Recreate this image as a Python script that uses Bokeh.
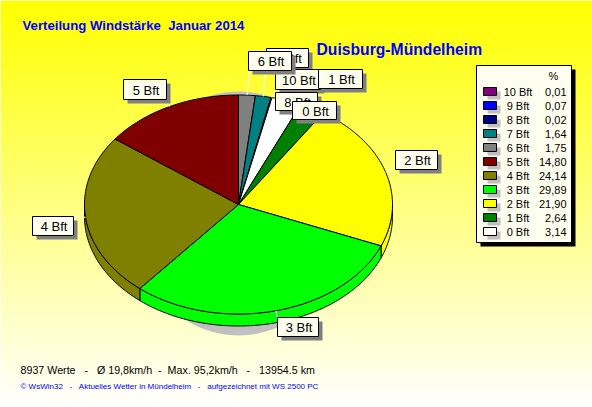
import math
from bokeh.plotting import figure
from bokeh.models import Range1d
from bokeh.core.properties import value
from bokeh.embed import file_html
from bokeh.resources import INLINE

# ---- data -------------------------------------------------------------
categories = ["10 Bft", "9 Bft", "8 Bft", "7 Bft", "6 Bft", "5 Bft", "4 Bft", "3 Bft", "2 Bft", "1 Bft", "0 Bft"]
percent = [0.01, 0.07, 0.02, 1.64, 1.75, 14.80, 24.14, 29.89, 21.90, 2.64, 3.14]
percent_labels = ["0,01", "0,07", "0,02", "1,64", "1,75", "14,80", "24,14", "29,89", "21,90", "2,64", "3,14"]
colors = ["#800080", "#0000ff", "#000080", "#008080", "#808080", "#800000", "#808000", "#00ff00", "#ffff00", "#008000", "#ffffff"]
slice_order = ["6 Bft", "7 Bft", "8 Bft", "9 Bft", "10 Bft", "0 Bft", "1 Bft", "2 Bft", "3 Bft", "4 Bft", "5 Bft"]

NB = "\u00a0"
title = f"Verteilung Windstärke {NB}Januar 2014"
subtitle = "Duisburg-Mündelheim"
stats = f"8937 Werte {NB}{NB}- {NB}{NB}Ø 19,8km/h {NB}- {NB}Max. 95,2km/h {NB}{NB}- {NB}{NB}13954.5 km"
credit = f"© WsWin32 {NB}{NB}- {NB}{NB}Aktuelles Wetter in Mündelheim {NB}{NB}- {NB}{NB}aufgezeichnet mit WS 2500 PC"

# label boxes, in paint order: name, left, top, right, bottom
label_boxes = [
    ("7 Bft", 266, 48, 308, 67),
    ("10 Bft", 275, 69, 320, 89),
    ("1 Bft", 318, 69, 362, 88),
    ("8 Bft", 275, 92, 317, 110),
    ("0 Bft", 292, 101, 336, 119),
    ("6 Bft", 248, 51, 291, 70),
    ("5 Bft", 123, 79, 166, 99),
    ("4 Bft", 32, 216, 73, 235),
    ("2 Bft", 395, 150, 437, 169),
    ("3 Bft", 277, 317, 318, 336),
]
# where each leader meets its box
leader_ends = {
    "6 Bft": (249, 70), "7 Bft": (265, 70), "5 Bft": (166, 99), "4 Bft": (73, 216),
    "2 Bft": (395, 169), "3 Bft": (277, 317), "1 Bft": (318, 88), "10 Bft": (275, 89),
}

# ---- geometry ---------------------------------------------------------
CX, CY, RX, RY, DEPTH = 238, 204, 154, 109.5, 12
FONT = value("Liberation Sans")

value_of = dict(zip(categories, percent))
color_of = dict(zip(categories, colors))
total = sum(percent)


def pt(deg, dy=0):
    a = math.radians(deg)
    return CX + RX * math.sin(a), CY + dy - RY * math.cos(a)


def arc(a0, a1, dy=0):
    n = max(2, int(abs(a1 - a0)) + 2)
    return [pt(a0 + (a1 - a0) * i / (n - 1), dy) for i in range(n)]


spans = {}
acc = 0.0
for name in slice_order:
    a0 = acc / total * 360
    acc += value_of[name]
    spans[name] = (a0, acc / total * 360)

p = figure(width=592, height=407, x_range=Range1d(0, 592), y_range=Range1d(407, 0),
           toolbar_location=None, output_backend="svg", min_border=0,
           outline_line_color=None, x_axis_type=None, y_axis_type=None)
p.grid.visible = False

# background gradient, one band per pixel row
rows = list(range(0, 407))
p.quad(left=0, right=592, top=rows, bottom=[r + 1.6 for r in rows],
       fill_color=["#ffff%02x" % min(255, int(255 * r / 407)) for r in rows], line_color=None)

# drop shadow under the pie
sh = [(238 + 108 * math.cos(math.radians(t)), 213 + 122 * math.sin(math.radians(t))) for t in range(0, 360, 3)]
p.patch([a for a, _ in sh], [b for _, b in sh], fill_color="#c0c0c0", line_color=None)

# rim of the front half
for name in slice_order:
    a0, a1 = spans[name]
    lo, hi = max(a0, 90), min(a1, 270)
    if hi <= lo:
        continue
    top = arc(lo, hi)
    bot = arc(hi, lo, DEPTH)
    poly = top + bot
    p.patch([a for a, _ in poly], [b for _, b in poly], fill_color=color_of[name],
            line_color="black", line_width=1)

# top surface
for name in slice_order:
    a0, a1 = spans[name]
    poly = [(CX, CY)] + arc(a0, a1)
    p.patch([a for a, _ in poly], [b for _, b in poly], fill_color=color_of[name],
            line_color="black", line_width=1)

# leaders
for name, (ex, ey) in leader_ends.items():
    a0, a1 = spans[name]
    sx, sy = pt((a0 + a1) / 2)
    p.line([sx, ex], [sy, ey], line_color="white", line_width=1)

# titles and footer
p.text([22], [25], text=[title], text_font=FONT, text_font_style="bold", text_font_size="13.2px",
       text_color="#0000ff", text_baseline="middle")
p.text([316], [49], text=[subtitle], text_font=FONT, text_font_style="bold", text_font_size="15.7px",
       text_color="#0000ff", text_baseline="middle")
p.text([20], [369], text=[stats], text_font=FONT, text_font_size="10.7px", text_color="black",
       text_baseline="middle")
p.text([20], [386], text=[credit], text_font=FONT, text_font_size="8px",
       text_color="#0000ff", text_baseline="middle")

# legend
p.quad(left=480, right=575, top=69, bottom=246, fill_color="black", line_color=None)
p.quad(left=476, right=571, top=65, bottom=242, fill_color="#fffff0", line_color="black", line_width=1)
p.text([553], [75], text=["%"], text_font=FONT, text_font_size="11px", text_color="black",
       text_align="center", text_baseline="middle")
ys = [91 + 14 * i for i in range(len(categories))]
p.quad(left=487, right=500, top=[y for y in ys], bottom=[y + 8 for y in ys], fill_color="#c0c0c0", line_color=None)
p.quad(left=483, right=496, top=[y - 4 for y in ys], bottom=[y + 4 for y in ys], fill_color=colors, line_color="black")
p.text([517.5] * len(ys), ys, text=categories, text_font=FONT, text_font_size="11px", text_color="black",
       text_align="center", text_baseline="middle")
p.text([566] * len(ys), ys, text=percent_labels, text_font=FONT, text_font_size="11px", text_color="black",
       text_align="right", text_baseline="middle")

# label boxes
for name, l, t, r, b in label_boxes:
    p.quad(left=[l + 4], right=[r + 4], top=[t + 4], bottom=[b + 4], fill_color="#808080", line_color=None)
    p.quad(left=[l], right=[r], top=[t], bottom=[b], fill_color="#fffff0", line_color="black", line_width=1)
    p.text([(l + r) / 2 + 1], [(t + b) / 2 + 0.5], text=[name], text_font=FONT, text_font_size="13px",
           text_color="black", text_align="center", text_baseline="middle")

open("out.html", "w").write(file_html(p, INLINE))
